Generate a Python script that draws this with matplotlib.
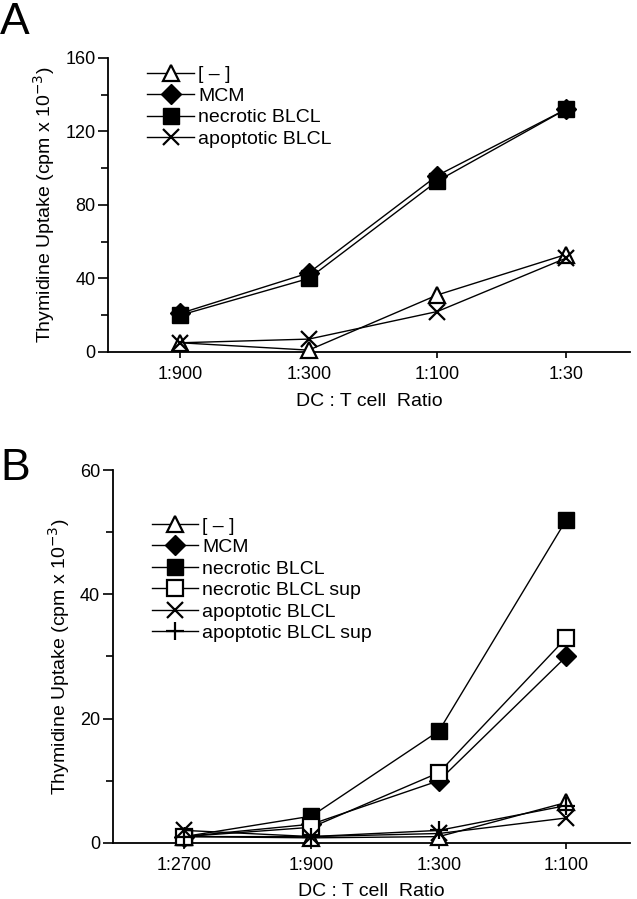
import matplotlib
matplotlib.use("Agg")
import matplotlib.pyplot as plt
from matplotlib.lines import Line2D
from matplotlib.ticker import MultipleLocator

plt.rcParams['font.family'] = ['Liberation Sans Narrow', 'Liberation Sans', 'DejaVu Sans']

# panel A data
ratios_a = ['1:900', '1:300', '1:100', '1:30']
a_none = [5, 1, 31, 53]
a_mcm = [21, 43, 96, 132]
a_necrotic = [20, 40, 93, 132]
a_apoptotic = [5, 7, 22, 51]

# panel B data
ratios_b = ['1:2700', '1:900', '1:300', '1:100']
b_none = [1, 0.8, 1, 6.5]
b_mcm = [1, 3, 10, 30]
b_necrotic = [1, 4.3, 18, 52]
b_necrotic_sup = [1, 2.5, 11.3, 33]
b_apoptotic = [2, 1, 1.5, 4]
b_apoptotic_sup = [1, 1, 2, 6]

styles = {
    '[ – ]': dict(marker='^', mfc='white', ms=12, mew=1.6),
    'MCM': dict(marker='D', mfc='black', ms=10, mew=1),
    'necrotic BLCL': dict(marker='s', mfc='black', ms=11, mew=1),
    'necrotic BLCL sup': dict(marker='s', mfc='white', ms=11, mew=1.6),
    'apoptotic BLCL': dict(marker='x', ms=12, mew=1.6),
    'apoptotic BLCL sup': dict(marker='+', ms=13, mew=1.6),
}


def panel(ax, labels, series, names, ymax, major, letter, leg_top, letter_y):
    x = list(range(len(labels)))
    for name, vals in zip(names, series):
        ax.plot(x, vals, color='black', lw=1, clip_on=False, zorder=3,
                mec='black', **styles[name])
    ax.set_xlim(-0.56, 3.5)
    ax.set_ylim(0, ymax)
    ax.set_xticks(x)
    ax.set_xticklabels(labels)
    ax.yaxis.set_major_locator(MultipleLocator(major))
    ax.yaxis.set_minor_locator(MultipleLocator(major / 2))
    ax.tick_params(axis='x', length=4, width=1.2, pad=6, labelsize=13)
    ax.tick_params(axis='y', which='major', length=7, width=1.2, labelsize=13, pad=2)
    ax.tick_params(axis='y', which='minor', length=5, width=1.2)
    for s in ['top', 'right']:
        ax.spines[s].set_visible(False)
    ax.spines['left'].set_linewidth(1.3)
    ax.spines['bottom'].set_linewidth(1.3)
    ax.set_ylabel('Thymidine Uptake (cpm x 10$^{-3}$)', fontsize=14, labelpad=6)
    ax.set_xlabel('DC : T cell  Ratio', fontsize=14, labelpad=7)
    handles = [Line2D([], [], color='black', lw=1, mec='black', **styles[n]) for n in names]
    ax.legend(handles, names, loc='upper left', bbox_to_anchor=(0.06, leg_top), frameon=False,
              fontsize=14, handlelength=2.4, handletextpad=0.2, labelspacing=0.2,
              borderaxespad=0)
    ax.figure.text(0.0, letter_y, letter, fontsize=32, va='top')


fig = plt.figure(figsize=(6.37, 8.99), dpi=100)
ax_a = fig.add_axes([0.170, 0.6085, 0.819, 0.327])
ax_b = fig.add_axes([0.177, 0.0625, 0.812, 0.4145])

panel(ax_a, ratios_a, [a_none, a_mcm, a_necrotic, a_apoptotic],
      ['[ – ]', 'MCM', 'necrotic BLCL', 'apoptotic BLCL'], 160, 40, 'A', 1.0, 0.998)
panel(ax_b, ratios_b, [b_none, b_mcm, b_necrotic, b_necrotic_sup, b_apoptotic, b_apoptotic_sup],
      ['[ – ]', 'MCM', 'necrotic BLCL', 'necrotic BLCL sup', 'apoptotic BLCL', 'apoptotic BLCL sup'],
      60, 20, 'B', 0.895, 0.502)

fig.savefig('out.png', dpi=100)
